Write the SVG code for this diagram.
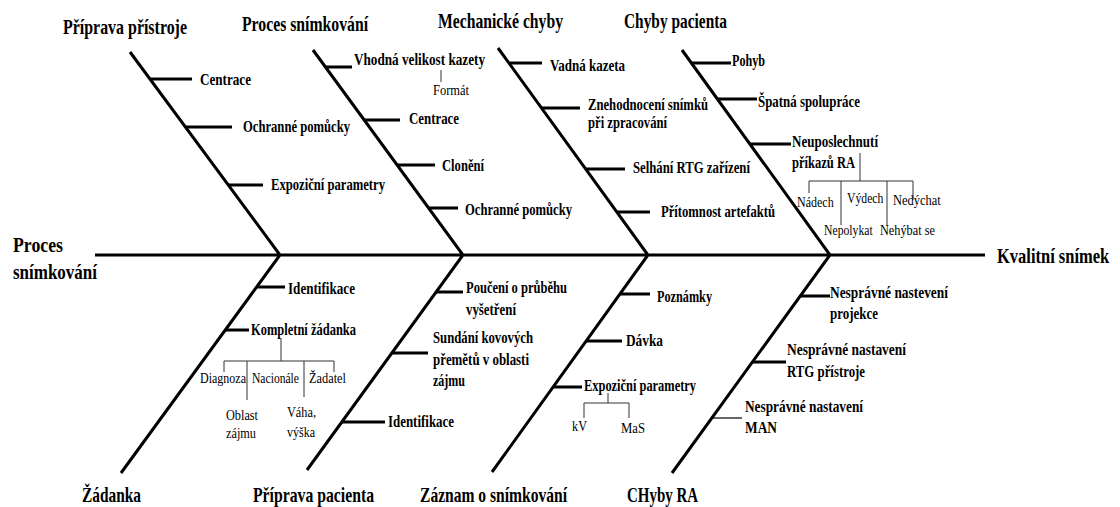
<svg xmlns="http://www.w3.org/2000/svg" width="1120" height="507" viewBox="0 0 1120 507">
<style>
text{font-family:"Liberation Serif","Times New Roman",serif;fill:#000}
.h{font-weight:bold;font-size:22px}
.b{font-weight:bold;font-size:17px}
.r{font-size:15px}
.k{stroke:#000;stroke-width:3;fill:none}
.m{stroke:#000;stroke-width:1.2;fill:none}
.t{stroke:#333;stroke-width:1;fill:none}
</style>
<rect width="1120" height="507" fill="#fff"/>
<g id="connectors">
<path class="k" d="M95 255H985M130 52L280 255L121 473M313 50L463 255L307 470M498 48L648 255L492 472M682 50L830 255L672 473"/>
<path class="k" d="M150 79H192M185 127H232M228 185H263M325 67H352M364 120H400M397 165H435M429 208H458M509 63H542M541 108H580M586 169H625M617 212H650M691 63H731M717 99H757M750 144H791M257 287H285M225 330H249M436 292H463M392 353H428M342 422H385M620 294H650M586 341H622M553 387H582M800 296H830M752 362H786"/>
<path class="m" d="M712 418H742"/>
<path class="t" d="M441 70V82M860 153V181M809 181H913M809 181V193M841 181V225M887 181V226M913 181V200M281 338V361M224 361H334M224 361V372M247 361V400M304 361V397M334 361V372M608 393V403M584 403H629M584 403V418M629 403V418"/>
</g>
<g id="h-priprava-pristroje"><text class="h" x="63" y="34" textLength="124" lengthAdjust="spacingAndGlyphs">Příprava přístroje</text></g>
<g id="h-proces-snimkovani"><text class="h" x="242" y="31" textLength="126" lengthAdjust="spacingAndGlyphs">Proces snímkování</text></g>
<g id="h-mechanicke-chyby"><text class="h" x="438" y="28" textLength="125" lengthAdjust="spacingAndGlyphs">Mechanické chyby</text></g>
<g id="h-chyby-pacienta"><text class="h" x="624" y="28" textLength="103" lengthAdjust="spacingAndGlyphs">Chyby pacienta</text></g>
<g id="h-zadanka"><text class="h" x="82" y="502" textLength="59" lengthAdjust="spacingAndGlyphs">Žádanka</text></g>
<g id="h-priprava-pacienta"><text class="h" x="253" y="502" textLength="121" lengthAdjust="spacingAndGlyphs">Příprava pacienta</text></g>
<g id="h-zaznam"><text class="h" x="420" y="502" textLength="147" lengthAdjust="spacingAndGlyphs">Záznam o snímkování</text></g>
<g id="h-chyby-ra"><text class="h" x="627" y="502" textLength="71" lengthAdjust="spacingAndGlyphs">CHyby RA</text></g>
<g id="h-left"><text class="h" x="13" y="252" textLength="50" lengthAdjust="spacingAndGlyphs">Proces</text><text class="h" x="13" y="279" textLength="84" lengthAdjust="spacingAndGlyphs">snímkování</text></g>
<g id="h-kvalitni" transform="translate(997 263) scale(0.75 1)"><text class="h" x="0" y="0">Kvalitní snímek</text></g>

<g id="n-centrace1"><text class="b" x="200" y="85" textLength="51" lengthAdjust="spacingAndGlyphs">Centrace</text></g>
<g id="n-ochranne1"><text class="b" x="243" y="132" textLength="107" lengthAdjust="spacingAndGlyphs">Ochranné pomůcky</text></g>
<g id="n-expozicni1"><text class="b" x="271" y="190" textLength="114" lengthAdjust="spacingAndGlyphs">Expoziční parametry</text></g>
<g id="n-vhodna"><text class="b" x="354" y="65" textLength="131" lengthAdjust="spacingAndGlyphs">Vhodná velikost kazety</text></g>
<g id="n-format"><text class="r" x="433" y="95" textLength="36" lengthAdjust="spacingAndGlyphs">Formát</text></g>
<g id="n-centrace2"><text class="b" x="409" y="124" textLength="50" lengthAdjust="spacingAndGlyphs">Centrace</text></g>
<g id="n-cloneni"><text class="b" x="442" y="171" textLength="42" lengthAdjust="spacingAndGlyphs">Clonění</text></g>
<g id="n-ochranne2"><text class="b" x="465" y="215" textLength="107" lengthAdjust="spacingAndGlyphs">Ochranné pomůcky</text></g>
<g id="n-vadna"><text class="b" x="550" y="71" textLength="75" lengthAdjust="spacingAndGlyphs">Vadná kazeta</text></g>
<g id="n-znehodnoceni"><text class="b" x="588" y="110" textLength="120" lengthAdjust="spacingAndGlyphs">Znehodnocení snímků</text><text class="b" x="588" y="128" textLength="79" lengthAdjust="spacingAndGlyphs">při zpracování</text></g>
<g id="n-selhani"><text class="b" x="633" y="173" textLength="117" lengthAdjust="spacingAndGlyphs">Selhání RTG zařízení</text></g>
<g id="n-pritomnost"><text class="b" x="661" y="217" textLength="114" lengthAdjust="spacingAndGlyphs">Přítomnost artefaktů</text></g>
<g id="n-pohyb"><text class="b" x="732" y="66" textLength="33" lengthAdjust="spacingAndGlyphs">Pohyb</text></g>
<g id="n-spatna"><text class="b" x="758" y="107" textLength="102" lengthAdjust="spacingAndGlyphs">Špatná spolupráce</text></g>
<g id="n-neuposlechnuti"><text class="b" x="792" y="147" textLength="86" lengthAdjust="spacingAndGlyphs">Neuposlechnutí</text><text class="b" x="792" y="168" textLength="63" lengthAdjust="spacingAndGlyphs">příkazů RA</text></g>
<g id="n-nadech" transform="translate(797 207) scale(0.8 1)"><text class="r" x="0" y="0">Nádech</text></g>
<g id="n-vydech" transform="translate(847 203) scale(0.78 1)"><text class="r" x="0" y="0">Výdech</text></g>
<g id="n-nedychat" transform="translate(893 205) scale(0.83 1)"><text class="r" x="0" y="0">Nedýchat</text></g>
<g id="n-nepolykat" transform="translate(824 235) scale(0.78 1)"><text class="r" x="0" y="0">Nepolykat</text></g>
<g id="n-nehybat" transform="translate(880 235) scale(0.82 1)"><text class="r" x="0" y="0">Nehýbat se</text></g>

<g id="n-identifikace1"><text class="b" x="288" y="294" textLength="67" lengthAdjust="spacingAndGlyphs">Identifikace</text></g>
<g id="n-kompletni"><text class="b" x="251" y="335" textLength="105" lengthAdjust="spacingAndGlyphs">Kompletní žádanka</text></g>
<g id="n-diagnoza"><text class="r" x="200" y="383" textLength="46" lengthAdjust="spacingAndGlyphs">Diagnoza</text></g>
<g id="n-nacionale"><text class="r" x="252" y="383" textLength="47" lengthAdjust="spacingAndGlyphs">Nacionále</text></g>
<g id="n-zadatel"><text class="r" x="309" y="383" textLength="37" lengthAdjust="spacingAndGlyphs">Žadatel</text></g>
<g id="n-oblast"><text class="r" x="226" y="420" textLength="32" lengthAdjust="spacingAndGlyphs">Oblast</text><text class="r" x="226" y="438" textLength="30" lengthAdjust="spacingAndGlyphs">zájmu</text></g>
<g id="n-vaha"><text class="r" x="287" y="417" textLength="29" lengthAdjust="spacingAndGlyphs">Váha,</text><text class="r" x="287" y="437" textLength="28" lengthAdjust="spacingAndGlyphs">výška</text></g>
<g id="n-pouceni"><text class="b" x="466" y="293" textLength="101" lengthAdjust="spacingAndGlyphs">Poučení o průběhu</text><text class="b" x="466" y="315" textLength="50" lengthAdjust="spacingAndGlyphs">vyšetření</text></g>
<g id="n-sundani"><text class="b" x="433" y="343" textLength="100" lengthAdjust="spacingAndGlyphs">Sundání kovových</text><text class="b" x="433" y="365" textLength="96" lengthAdjust="spacingAndGlyphs">přemětů v oblasti</text><text class="b" x="433" y="386" textLength="32" lengthAdjust="spacingAndGlyphs">zájmu</text></g>
<g id="n-identifikace2"><text class="b" x="388" y="427" textLength="66" lengthAdjust="spacingAndGlyphs">Identifikace</text></g>
<g id="n-poznamky"><text class="b" x="657" y="302" textLength="55" lengthAdjust="spacingAndGlyphs">Poznámky</text></g>
<g id="n-davka"><text class="b" x="626" y="346" textLength="37" lengthAdjust="spacingAndGlyphs">Dávka</text></g>
<g id="n-expozicni2"><text class="b" x="584" y="391" textLength="112" lengthAdjust="spacingAndGlyphs">Expoziční parametry</text></g>
<g id="n-kv"><text class="r" x="572" y="431" textLength="15" lengthAdjust="spacingAndGlyphs">kV</text></g>
<g id="n-mas"><text class="r" x="621" y="433" textLength="24" lengthAdjust="spacingAndGlyphs">MaS</text></g>
<g id="n-projekce"><text class="b" x="830" y="298" textLength="118" lengthAdjust="spacingAndGlyphs">Nesprávné nastevení</text><text class="b" x="830" y="319" textLength="48" lengthAdjust="spacingAndGlyphs">projekce</text></g>
<g id="n-rtg"><text class="b" x="787" y="355" textLength="119" lengthAdjust="spacingAndGlyphs">Nesprávné nastavení</text><text class="b" x="787" y="377" textLength="78" lengthAdjust="spacingAndGlyphs">RTG přístroje</text></g>
<g id="n-man"><text class="b" x="745" y="412" textLength="118" lengthAdjust="spacingAndGlyphs">Nesprávné nastavení</text><text class="b" x="745" y="433" textLength="32" lengthAdjust="spacingAndGlyphs">MAN</text></g>
</svg>
